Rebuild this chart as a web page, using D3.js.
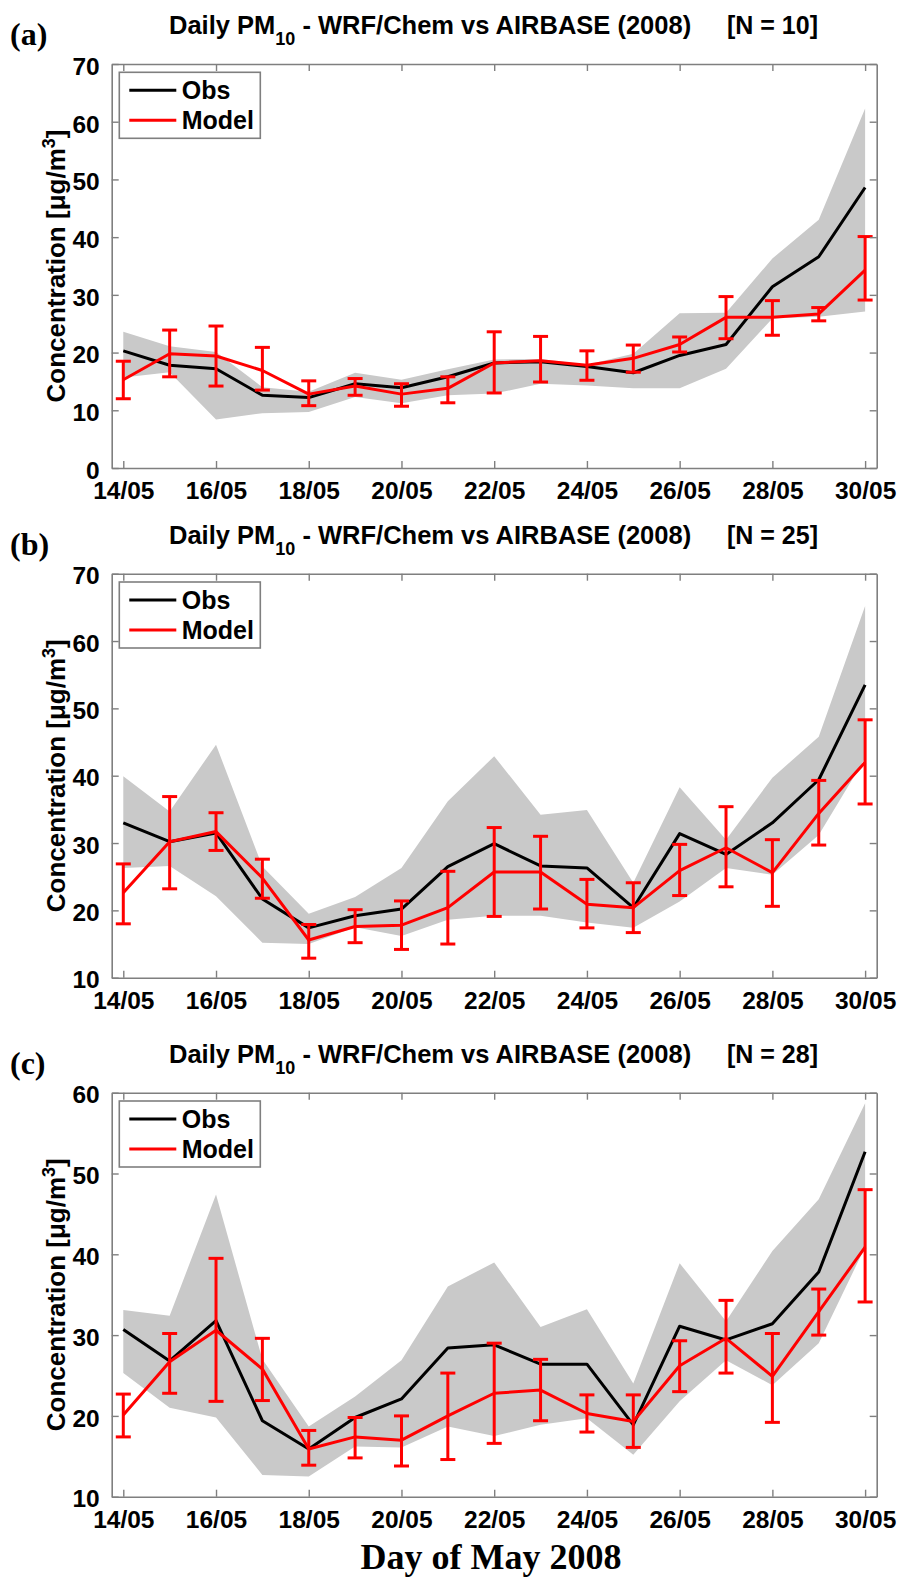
<!DOCTYPE html>
<html>
<head>
<meta charset="utf-8">
<script src="https://cdn.jsdelivr.net/npm/d3@7"></script>
<style>
  html, body { margin: 0; padding: 0; background: #fff; }
  svg { display: block; }
</style>
</head>
<body>
<svg id="chart" width="901" height="1578"></svg>
<script>
// ---------- data ----------
const days = [14, 15, 16, 17, 18, 19, 20, 21, 22, 23, 24, 25, 26, 27, 28, 29, 30];
const xTickDays = [14, 16, 18, 20, 22, 24, 26, 28, 30];
const xTickLabels = ["14/05", "16/05", "18/05", "20/05", "22/05", "24/05", "26/05", "28/05", "30/05"];

const panelLetters = ["(a)", "(b)", "(c)"];
const stationCounts = [10, 25, 28];
const yTicksA = [0, 10, 20, 30, 40, 50, 60, 70];
const yTicksB = [10, 20, 30, 40, 50, 60, 70];
const yTicksC = [10, 20, 30, 40, 50, 60];

// Panel (a)
const obsA      = [20.3, 17.8, 17.2, 12.6, 12.2, 14.6, 13.9, 15.8, 18.2, 18.4, 17.6, 16.5, 19.5, 21.4, 31.4, 36.6, 48.6];
const modelA    = [15.3, 19.8, 19.4, 16.9, 12.8, 14.2, 12.8, 13.8, 18.2, 18.6, 17.8, 19.0, 21.4, 26.1, 26.1, 26.7, 34.3];
const modelHiA  = [18.5, 23.9, 24.6, 20.9, 15.1, 15.5, 14.6, 15.8, 23.6, 22.8, 20.3, 21.3, 22.7, 29.7, 29.0, 27.8, 40.1];
const modelLoA  = [12.0, 15.8, 14.2, 13.5, 10.8, 12.6, 10.7, 11.3, 13.0, 14.9, 15.2, 16.6, 20.1, 22.4, 23.0, 25.5, 29.1];
const bandHiA   = [23.6, 21.1, 20.1, 14.0, 13.2, 16.5, 15.3, 17.1, 18.8, 18.9, 17.9, 19.8, 26.8, 26.9, 36.3, 43.0, 62.3];
const bandLoA   = [15.7, 16.6, 8.4, 9.5, 9.7, 12.3, 11.2, 12.6, 12.9, 14.6, 14.3, 13.8, 13.8, 17.2, 25.9, 26.2, 27.1];

// Panel (b)
const obsB      = [33.0, 30.2, 31.5, 21.7, 17.4, 19.2, 20.2, 26.5, 29.9, 26.6, 26.3, 20.4, 31.4, 28.3, 33.0, 39.4, 53.5];
const modelB    = [22.6, 30.2, 31.7, 24.8, 15.6, 17.6, 17.8, 20.4, 25.7, 25.7, 20.9, 20.4, 25.9, 29.3, 25.6, 34.4, 42.0];
const modelHiB  = [26.9, 36.9, 34.5, 27.6, 17.9, 20.1, 21.4, 25.8, 32.3, 31.0, 24.6, 24.1, 29.8, 35.4, 30.5, 39.3, 48.3];
const modelLoB  = [18.0, 23.2, 28.9, 21.8, 12.9, 15.2, 14.2, 15.0, 19.1, 20.2, 17.4, 16.7, 22.2, 23.5, 20.6, 29.7, 35.8];
const bandHiB   = [39.9, 34.7, 44.6, 26.5, 19.5, 22.0, 26.3, 36.2, 42.9, 34.2, 34.9, 24.1, 38.3, 30.5, 39.7, 45.8, 65.2];
const bandLoB   = [26.3, 26.6, 22.1, 15.2, 15.0, 17.5, 16.2, 18.6, 19.2, 19.2, 18.2, 17.4, 21.3, 26.3, 25.3, 31.2, 42.6];

// Panel (c)
const obsC      = [30.7, 26.8, 31.8, 19.4, 15.9, 19.8, 22.1, 28.4, 28.8, 26.4, 26.4, 18.9, 31.1, 29.4, 31.4, 37.8, 52.7];
const modelC    = [20.1, 26.7, 30.6, 25.8, 15.9, 17.4, 17.0, 20.0, 22.8, 23.2, 20.3, 19.3, 26.2, 29.6, 24.9, 32.9, 40.9];
const modelHiC  = [22.7, 30.2, 39.5, 29.6, 18.2, 19.8, 20.0, 25.3, 29.0, 27.0, 22.6, 22.6, 29.3, 34.3, 30.2, 35.7, 48.0];
const modelLoC  = [17.4, 22.8, 21.8, 21.9, 13.9, 14.8, 13.8, 14.6, 16.6, 19.4, 18.0, 16.1, 23.0, 25.3, 19.2, 30.0, 34.1];
const bandHiC   = [33.1, 32.4, 47.4, 27.0, 18.7, 22.4, 26.9, 36.0, 39.0, 31.0, 33.2, 24.0, 38.9, 31.7, 40.4, 46.8, 58.7];
const bandLoC   = [25.3, 21.0, 19.8, 12.7, 12.5, 16.2, 16.1, 18.7, 17.5, 18.9, 19.7, 15.2, 21.8, 26.9, 23.8, 29.0, 40.9];

// ---------- layout ----------
const svg = d3.select("#chart");
const SANS = "'Liberation Sans', Arial, Helvetica, sans-serif";
const SERIF = "'Liberation Serif', 'Times New Roman', serif";
const axisColor = "#7f7f7f";
const left = 111.7, right = 876.7, plotH = 404;

const panels = [
  { top: 64,    ticks: yTicksA, obs: obsA, model: modelA, hi: modelHiA, lo: modelLoA, bHi: bandHiA, bLo: bandLoA },
  { top: 573.7, ticks: yTicksB, obs: obsB, model: modelB, hi: modelHiB, lo: modelLoB, bHi: bandHiB, bLo: bandLoB },
  { top: 1092.7, ticks: yTicksC, obs: obsC, model: modelC, hi: modelHiC, lo: modelLoC, bHi: bandHiC, bLo: bandLoC }
];

const x = d3.scaleLinear().domain([13.75, 30.25]).range([left, right]);

panels.forEach((p, pi) => {
  const top = p.top, bottom = top + plotH;
  const y = d3.scaleLinear().domain([p.ticks[0], p.ticks[p.ticks.length - 1]]).range([bottom, top]);
  const g = svg.append("g");

  // panel letter
  g.append("text").attr("x", 10).attr("y", top - 19)
    .attr("font-family", SERIF).attr("font-weight", "bold").attr("font-size", 32)
    .text(panelLetters[pi]);

  // title
  const t = g.append("text").attr("x", 169).attr("y", top - 30)
    .attr("font-family", SANS).attr("font-weight", "bold").attr("font-size", 25.5);
  t.append("tspan").text("Daily PM");
  t.append("tspan").attr("dy", 11).attr("font-size", 18).text("10");
  t.append("tspan").attr("dy", -11).text(" - WRF/Chem vs AIRBASE (2008)");
  g.append("text").attr("x", 727).attr("y", top - 30)
    .attr("font-family", SANS).attr("font-weight", "bold").attr("font-size", 25)
    .attr("xml:space", "preserve")
    .text(`[N = ${stationCounts[pi]}]`);

  // band
  const area = d3.area().x((d, i) => x(days[i])).y0((d, i) => y(p.bLo[i])).y1((d, i) => y(p.bHi[i]));
  g.append("path").datum(days).attr("d", area).attr("fill", "#c9c9c9").attr("stroke", "none");

  // obs line
  const lineGen = d3.line().x((d, i) => x(days[i])).y(d => y(d));
  g.append("path").datum(p.obs).attr("d", lineGen)
    .attr("fill", "none").attr("stroke", "#000").attr("stroke-width", 3).attr("stroke-linejoin", "round");

  // model line
  g.append("path").datum(p.model).attr("d", lineGen)
    .attr("fill", "none").attr("stroke", "#ff0000").attr("stroke-width", 3).attr("stroke-linejoin", "round");

  // error bars
  const eb = g.append("g").attr("stroke", "#ff0000").attr("stroke-width", 3).attr("fill", "none");
  days.forEach((d, i) => {
    const cx = x(d), yh = y(p.hi[i]), yl = y(p.lo[i]);
    eb.append("line").attr("x1", cx).attr("x2", cx).attr("y1", yh).attr("y2", yl);
    eb.append("line").attr("x1", cx - 7.5).attr("x2", cx + 7.5).attr("y1", yh).attr("y2", yh);
    eb.append("line").attr("x1", cx - 7.5).attr("x2", cx + 7.5).attr("y1", yl).attr("y2", yl);
  });

  // axes (MATLAB style box with inward ticks on all sides)
  const axL = d3.axisLeft(y).tickValues(p.ticks).tickSizeInner(-7).tickSizeOuter(0).tickPadding(12).tickFormat(d3.format("d"));
  const axR = d3.axisRight(y).tickValues(p.ticks).tickSizeInner(-7).tickSizeOuter(0).tickFormat("");
  const axB = d3.axisBottom(x).tickValues(xTickDays).tickSizeInner(-7).tickSizeOuter(0).tickPadding(14)
    .tickFormat((d, i) => xTickLabels[i]);
  const axT = d3.axisTop(x).tickValues(xTickDays).tickSizeInner(-7).tickSizeOuter(0).tickFormat("");

  const styleAxis = sel => {
    sel.selectAll("path").attr("stroke", axisColor).attr("stroke-width", 1.6);
    sel.selectAll("line").attr("stroke", axisColor).attr("stroke-width", 1.4);
    sel.selectAll("text").attr("fill", "#000").attr("font-family", SANS)
      .attr("font-weight", "bold").attr("font-size", 24.5);
  };
  g.append("g").attr("transform", `translate(${left},0)`).call(axL).call(styleAxis)
    .selectAll("text").attr("dy", "0.42em");
  g.append("g").attr("transform", `translate(${right},0)`).call(axR).call(styleAxis);
  g.append("g").attr("transform", `translate(0,${bottom})`).call(axB).call(styleAxis)
    .selectAll("text").attr("dy", "0.71em");
  g.append("g").attr("transform", `translate(0,${top})`).call(axT).call(styleAxis);

  // y label
  const yl = g.append("text")
    .attr("transform", `translate(65,${(top + bottom) / 2}) rotate(-90)`)
    .attr("text-anchor", "middle")
    .attr("font-family", SANS).attr("font-weight", "bold").attr("font-size", 26);
  yl.append("tspan").text("Concentration [\u03BCg/m");
  yl.append("tspan").attr("dy", -10).attr("font-size", 18).text("3");
  yl.append("tspan").attr("dy", 10).text("]");

  // legend
  const lg = g.append("g");
  const lx = 119.3, ly = top + 8.3;
  lg.append("rect").attr("x", lx).attr("y", ly).attr("width", 141).attr("height", 66)
    .attr("fill", "#fff").attr("stroke", axisColor).attr("stroke-width", 1.6);
  const items = [{ name: "Obs", color: "#000" }, { name: "Model", color: "#ff0000" }];
  items.forEach((it, k) => {
    const yy = ly + 18 + k * 30;
    lg.append("line").attr("x1", lx + 10).attr("x2", lx + 57).attr("y1", yy).attr("y2", yy)
      .attr("stroke", it.color).attr("stroke-width", 3);
    lg.append("text").attr("x", lx + 62.4).attr("y", yy).attr("dy", "0.36em")
      .attr("font-family", SANS).attr("font-weight", "bold").attr("font-size", 25)
      .text(it.name);
  });
});

// common x label
svg.append("text").attr("x", 491).attr("y", 1569).attr("text-anchor", "middle")
  .attr("font-family", SERIF).attr("font-weight", "bold").attr("font-size", 36)
  .text("Day of May 2008");
</script>
</body>
</html>
